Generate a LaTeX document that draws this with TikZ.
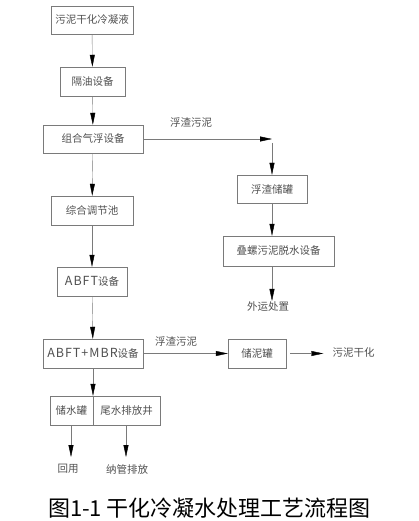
\documentclass[tikz,border=0pt]{standalone}
\usepackage{fontspec}
\setmainfont{Noto Sans CJK SC}
\usepackage{tikz}
\usetikzlibrary{arrows.meta,positioning}

\definecolor{linegray}{HTML}{7A7A7A}
\definecolor{textgray}{HTML}{505050}
\newcommand{\wideabc}[1]{{\fontsize{12.5}{12}\selectfont\addfontfeature{LetterSpace=8}#1}}

\tikzset{
  box/.style={rectangle, draw=linegray, thin, minimum height=29pt, inner sep=1pt, text=textgray, font=\fontsize{10.5}{12}\selectfont},
  lbl/.style={text=textgray, inner sep=1pt, font=\fontsize{10.5}{12}\selectfont},
  flow/.style={draw=linegray, thin, -{Triangle[length=12pt, width=5pt, color=black]}},
}

\begin{document}
\begin{tikzpicture}[x=1pt, y=-1pt]
\useasboundingbox (0,0) rectangle (418,521);

\node (condensate) [box, minimum width=82pt, minimum height=28pt] at (92,20) {污泥干化冷凝液};
\node (oilsep) [box, minimum width=65pt] at (92.5,81.5) {隔油设备};
\node (flotation) [box, minimum width=100pt, minimum height=28pt] at (93,139) {组合气浮设备};
\node (equal) [box, minimum width=82pt] at (92,210.5) {综合调节池};
\node (abft) [box, minimum width=70pt] at (92,281.5) {\wideabc{ABFT}设备};
\node (mbr) [box, minimum width=100pt] at (93,353.5) {\wideabc{ABFT+MBR}设备};

\node (watertank) [box, minimum width=43pt, anchor=east] at (93,410.5) {储水罐};
\node (outwell) [box, minimum width=67pt, anchor=west] at (93,410.5) {尾水排放井};

\node (scumtank) [box, minimum width=70pt, minimum height=28pt] at (272,189) {浮渣储罐};
\node (dewater) [box, minimum width=111pt, minimum height=30pt] at (278.5,251) {叠螺污泥脱水设备};
\node (disposal) [lbl] at (268,307) {外运处置};

\node (sludgetank) [box, minimum width=58pt] at (257,353.5) {储泥罐};
\node (drying) [lbl] at (353.5,353) {污泥干化};

\node (reuse) [lbl] at (68,469) {回用};
\node (discharge) [lbl] at (127,469) {纳管排放};

\node (scum1) [lbl] at (191,123) {浮渣污泥};
\node (scum2) [lbl] at (176,342) {浮渣污泥};

\coordinate (turn) at (272,139);

% main line
\draw [flow] (condensate) -- (oilsep);
\draw [flow] (oilsep) -- (flotation);
\draw [flow] (flotation) -- (equal);
\draw [flow] (equal) -- (abft);
\draw [flow] (abft) -- (mbr);
\draw [flow] (mbr.south) -- (mbr.south |- watertank.north);

% scum branch
\draw [flow] (flotation.east) -- (turn);
\draw [flow, shorten <=4pt] (turn) -- (scumtank);
\draw [flow] (scumtank) -- (scumtank |- dewater.north);
\draw [flow] (dewater.south -| scumtank) -- (scumtank |- disposal.north);

% sludge
\draw [flow] (mbr.east) -- (sludgetank.west);
\draw [flow, shorten <=4pt, shorten >=8pt] (sludgetank.east) -- (drying.west |- sludgetank.east);

% outlets
\draw [flow] (watertank.south -| 71,0) -- (71,457);
\draw [flow] (outwell.south -| 126,0) -- (126,457);

\node (caption) [font=\fontsize{22}{24}\selectfont, inner sep=0pt] at (209.5,508) {图1-1\ 干化冷凝水处理工艺流程图};
\end{tikzpicture}
\end{document}
